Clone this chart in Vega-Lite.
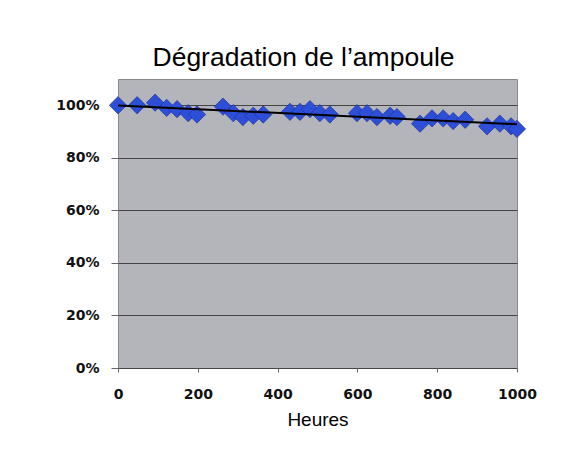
{
  "$schema": "https://vega.github.io/schema/vega-lite/v6.json",
  "autosize": "none",
  "width": 399,
  "height": 289,
  "padding": {"left": 118, "top": 79, "right": 51, "bottom": 95},
  "background": "white",
  "title": {
    "text": "Dégradation de l’ampoule",
    "font": "Liberation Sans",
    "fontSize": 26.5,
    "fontWeight": "normal",
    "color": "#000000",
    "anchor": "middle",
    "dx": -14,
    "offset": 8
  },
  "config": {
    "view": {"fill": "#b4b5ba", "stroke": "#8a8a8a", "strokeWidth": 1}
  },
  "data": {
    "values": [
      {"h": 0, "v": 1.0},
      {"h": 48, "v": 1.0},
      {"h": 93, "v": 1.01},
      {"h": 122, "v": 0.99},
      {"h": 148, "v": 0.985},
      {"h": 176, "v": 0.97},
      {"h": 198, "v": 0.965},
      {"h": 263, "v": 0.995},
      {"h": 289, "v": 0.97},
      {"h": 313, "v": 0.955},
      {"h": 339, "v": 0.96},
      {"h": 364, "v": 0.965},
      {"h": 431, "v": 0.975},
      {"h": 456, "v": 0.975},
      {"h": 481, "v": 0.985},
      {"h": 506, "v": 0.97},
      {"h": 531, "v": 0.965},
      {"h": 599, "v": 0.97},
      {"h": 624, "v": 0.97},
      {"h": 649, "v": 0.955},
      {"h": 682, "v": 0.96},
      {"h": 699, "v": 0.955},
      {"h": 757, "v": 0.93},
      {"h": 787, "v": 0.95},
      {"h": 815, "v": 0.95},
      {"h": 840, "v": 0.94},
      {"h": 870, "v": 0.945},
      {"h": 925, "v": 0.92},
      {"h": 957, "v": 0.93},
      {"h": 985, "v": 0.92},
      {"h": 1000, "v": 0.91}
    ]
  },
  "layer": [
    {
      "mark": {"type": "point", "shape": "diamond", "filled": true, "size": 300, "color": "#2d4fd8", "stroke": "#1b2a8c", "strokeWidth": 0.6, "opacity": 1},
      "encoding": {
        "x": {
          "field": "h", "type": "quantitative",
          "scale": {"domain": [0, 1000], "nice": false},
          "axis": {
            "title": "Heures",
            "titleFont": "Liberation Sans",
            "titleFontSize": 19,
            "titleFontWeight": "normal",
            "titleColor": "#000000",
            "titlePadding": 9,
            "values": [0, 200, 400, 600, 800, 1000],
            "format": "d",
            "labelFont": "DejaVu Sans",
            "labelFontSize": 14,
            "labelFontWeight": "bold",
            "labelColor": "#111111",
            "labelPadding": 15,
            "grid": false,
            "domain": false,
            "ticks": true,
            "tickSize": 4,
            "tickColor": "#666666",
            "labelFlush": false
          }
        },
        "y": {
          "field": "v", "type": "quantitative",
          "scale": {"domain": [0, 1.1], "nice": false},
          "axis": {
            "title": null,
            "values": [0, 0.2, 0.4, 0.6, 0.8, 1.0],
            "format": ".0%",
            "labelFont": "DejaVu Sans",
            "labelFontSize": 14,
            "labelFontWeight": "bold",
            "labelColor": "#111111",
            "labelPadding": 12,
            "grid": true,
            "gridColor": "#444444",
            "gridWidth": 1,
            "domain": false,
            "ticks": true,
            "tickSize": 7,
            "tickColor": "#666666"
          }
        }
      }
    },
    {
      "transform": [{"regression": "v", "on": "h", "extent": [0, 1000]}],
      "mark": {"type": "line", "color": "#000000", "strokeWidth": 2},
      "encoding": {
        "x": {"field": "h", "type": "quantitative"},
        "y": {"field": "v", "type": "quantitative"}
      }
    }
  ]
}
